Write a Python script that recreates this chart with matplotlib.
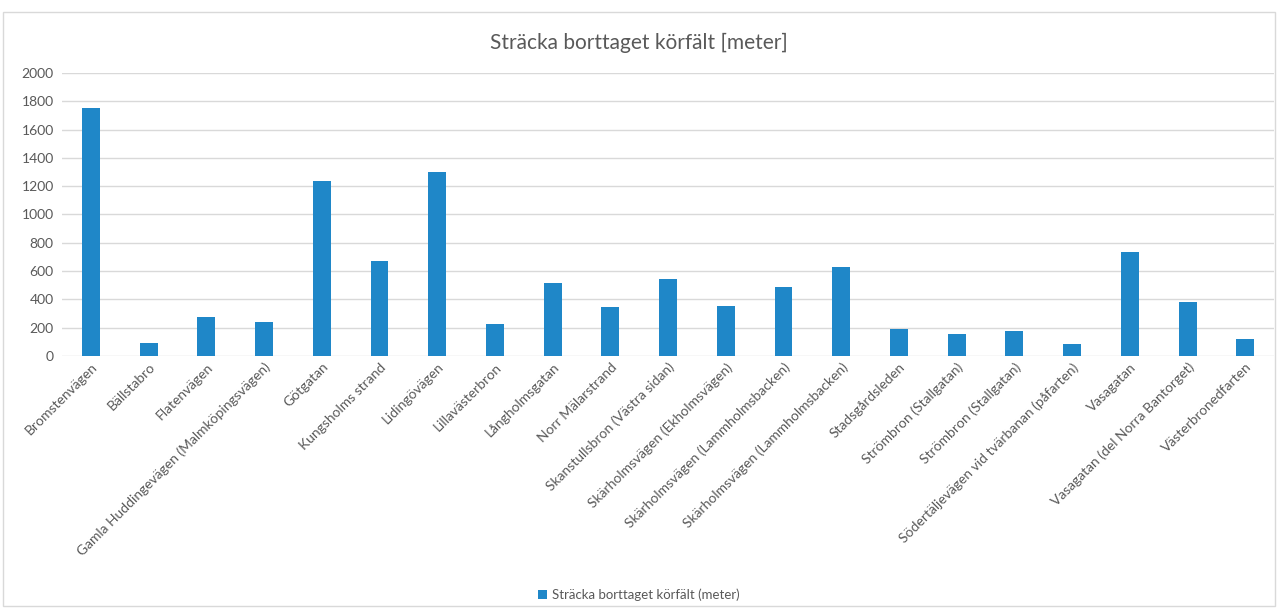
import matplotlib.pyplot as plt
from matplotlib.patches import Rectangle

# Data
gator = [
    "Bromstenvägen", "Bällstabro", "Flatenvägen",
    "Gamla Huddingevägen (Malmköpingsvägen)", "Götgatan", "Kungsholms strand",
    "Lidingövägen", "Lillavästerbron", "Långholmsgatan", "Norr Mälarstrand",
    "Skanstullsbron (Västra sidan)", "Skärholmsvägen (Ekholmsvägen)",
    "Skärholmsvägen (Lammholmsbacken)", "Skärholmsvägen (Lammholmsbacken)",
    "Stadsgårdsleden", "Strömbron (Stallgatan)", "Strömbron (Stallgatan)",
    "Södertäljevägen vid tvärbanan (påfarten)", "Vasagatan",
    "Vasagatan (del Norra Bantorget)", "Västerbronedfarten",
]
meter = [1750, 95, 275, 240, 1240, 670, 1300, 225, 515, 345,
         545, 355, 485, 630, 190, 155, 180, 85, 735, 380, 120]

plt.rcParams["font.family"] = ["Lato", "DejaVu Sans"]

fig = plt.figure(figsize=(12.78, 6.08), dpi=100)
ax = fig.add_axes([0.0485, 0.4145, 0.9485, 0.4655])

x = list(range(len(gator)))
ax.bar(x, meter, width=0.31, color="#1f87c8", label="Sträcka borttaget körfält (meter)", zorder=3)

ax.set_xlim(-0.5, len(gator) - 0.5)
ax.set_ylim(0, 2000)
ax.set_yticks(range(0, 2001, 200))
ax.grid(axis="y", color="#d9d9d9", linewidth=1, zorder=0)
for s in ax.spines.values():
    s.set_visible(False)
ax.tick_params(axis="both", length=0, colors="#595959", labelsize=10)
ax.tick_params(axis="y", pad=6)

ax.set_xticks(x)
ax.set_xticklabels(gator, rotation=45, ha="right", rotation_mode="anchor")

fig.text(0.5, 0.93, "Sträcka borttaget körfält [meter]", ha="center", va="center",
         fontsize=15, color="#595959")

fig.legend(loc="center", bbox_to_anchor=(0.5, 0.022), frameon=False, fontsize=9.5,
           labelcolor="#595959", handlelength=0.7, handleheight=0.7, handletextpad=0.4)

# ram runt diagrammet
fig.patches.append(Rectangle((0.002, 0.003), 0.996, 0.978, transform=fig.transFigure,
                             fill=False, edgecolor="#d9d9d9", linewidth=1))

fig.savefig("out.png", dpi=100)
